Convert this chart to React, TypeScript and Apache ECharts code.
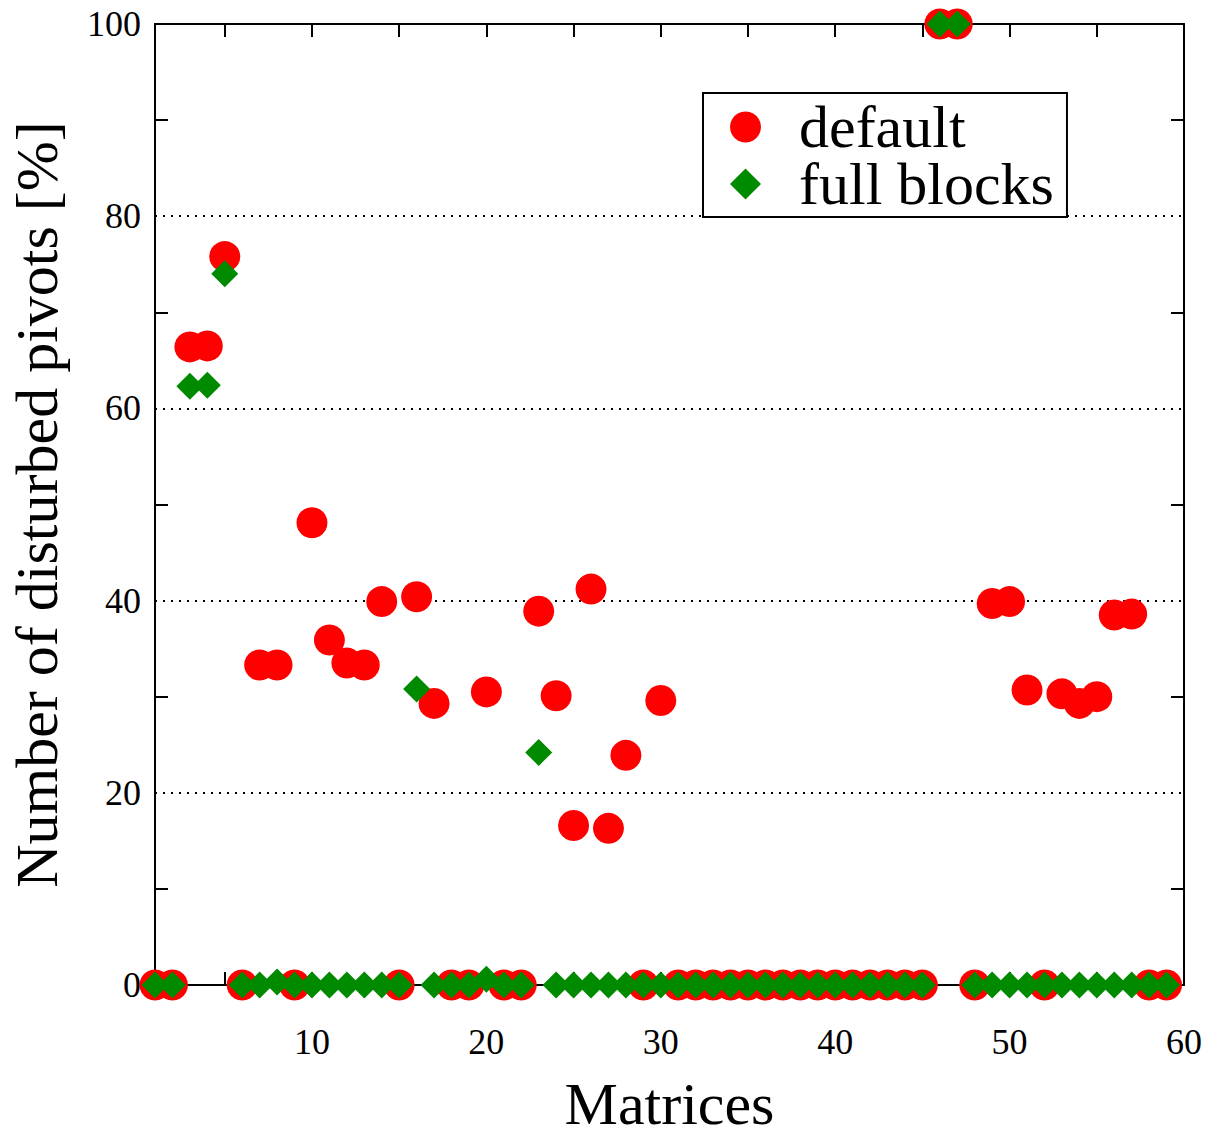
import React, { useEffect, useRef } from "react";
import * as echarts from "echarts";

const matrixIds = [
  1, 2, 3, 4, 5, 6, 7, 8, 9, 10, 11, 12, 13, 14, 15, 16, 17, 18, 19, 20,
  21, 22, 23, 24, 25, 26, 27, 28, 29, 30, 31, 32, 33, 34, 35, 36, 37, 38, 39, 40,
  41, 42, 43, 44, 45, 46, 47, 48, 49, 50, 51, 52, 53, 54, 55, 56, 57, 58, 59,
];

const defaultValues = [
  0, 0, 66.4, 66.5, 75.8, 0, 33.3, 33.3, 0, 48.1,
  35.9, 33.5, 33.3, 39.9, 0, 40.4, 29.3, 0, 0, 30.5,
  0, 0, 38.9, 30.1, 16.6, 41.2, 16.3, 23.9, 0, 29.6,
  0, 0, 0, 0, 0, 0, 0, 0, 0, 0,
  0, 0, 0, 0, 0, 100, 100, 0, 39.7, 39.9,
  30.7, 0, 30.3, 29.3, 30.0, 38.5, 38.6, 0, 0,
];

const fullBlocksValues = [
  0, 0, 62.3, 62.4, 74.0, 0, 0, 0.3, 0, 0,
  0, 0, 0, 0, 0, 30.8, 0, 0, 0, 0.6,
  0, 0, 24.2, 0, 0, 0, 0, 0, 0, 0,
  0, 0, 0, 0, 0, 0, 0, 0, 0, 0,
  0, 0, 0, 0, 0, 100, 100, 0, 0, 0,
  0, 0, 0, 0, 0, 0, 0, 0, 0,
];

const xTickLabels = [10, 20, 30, 40, 50, 60];
const xTickMarks = [5, 10, 15, 20, 25, 30, 35, 40, 45, 50, 55];

const FONT = "Liberation Serif";

export default function App() {
  const ref = useRef<HTMLDivElement>(null);

  useEffect(() => {
    if (!ref.current) return;
    const chart = echarts.init(ref.current, undefined, { renderer: "svg" });
    const axisLine = { show: true, onZero: false, lineStyle: { color: "#000", width: 2 } };
    const option: any = {
      animation: false,
      backgroundColor: "#fff",
      grid: {
        left: 155,
        right: 21,
        top: 24,
        bottom: 152,
        containLabel: false,
        outerBoundsMode: "none",
      },
      legend: {
        orient: "vertical",
        left: 703,
        top: 93,
        padding: [4, 13, 3, 27],
        itemGap: -3,
        itemWidth: 31,
        itemHeight: 31,
        backgroundColor: "#fff",
        borderColor: "#000",
        borderWidth: 2,
        z: 10,
        textStyle: {
          fontFamily: FONT,
          fontSize: 60,
          color: "#000",
          padding: [0, 0, 0, 33],
        },
        data: [
          { name: "default", icon: "circle" },
          { name: "full blocks", icon: "diamond" },
        ],
      },
      xAxis: [
        {
          type: "value",
          position: "bottom",
          min: 1,
          max: 60,
          name: "Matrices",
          nameLocation: "middle",
          nameGap: 97,
          nameTextStyle: { fontFamily: FONT, fontSize: 60, lineHeight: 44, color: "#000" },
          axisLine,
          axisTick: {
            show: true,
            inside: true,
            length: 13,
            customValues: xTickMarks,
            lineStyle: { color: "#000", width: 2 },
          },
          axisLabel: {
            show: true,
            customValues: xTickLabels,
            margin: 39,
            fontFamily: FONT,
            fontSize: 36,
            color: "#000",
          },
          splitLine: { show: false },
        },
        {
          type: "value",
          position: "top",
          min: 1,
          max: 60,
          axisLine,
          axisTick: {
            show: true,
            inside: true,
            length: 13,
            customValues: xTickMarks,
            lineStyle: { color: "#000", width: 2 },
          },
          axisLabel: { show: false },
          splitLine: { show: false },
        },
      ],
      yAxis: [
        {
          type: "value",
          position: "left",
          min: 0,
          max: 100,
          interval: 20,
          name: "Number of disturbed pivots [%]",
          nameLocation: "middle",
          nameGap: 88,
          nameTextStyle: { fontFamily: FONT, fontSize: 60, color: "#000" },
          axisLine,
          axisTick: { show: false, inside: true },
          minorTick: {
            show: true,
            splitNumber: 2,
            length: 13,
            lineStyle: { color: "#000", width: 2 },
          },
          axisLabel: {
            show: true,
            inside: false,
            margin: 14,
            fontFamily: FONT,
            fontSize: 36,
            color: "#000",
          },
          splitLine: {
            show: true,
            lineStyle: { color: "#000", width: 2, type: [2, 6] },
          },
        },
        {
          type: "value",
          position: "right",
          min: 0,
          max: 100,
          interval: 20,
          axisLine,
          axisTick: { show: false, inside: true },
          minorTick: {
            show: true,
            splitNumber: 2,
            length: 13,
            lineStyle: { color: "#000", width: 2 },
          },
          axisLabel: { show: false },
          splitLine: { show: false },
        },
      ],
      series: [
        {
          name: "default",
          type: "scatter",
          xAxisIndex: 0,
          yAxisIndex: 0,
          symbol: "circle",
          symbolSize: 31,
          clip: false,
          itemStyle: { color: "#ff0000", opacity: 1 },
          data: matrixIds.map((m, i) => [m, defaultValues[i]]),
          z: 3,
        },
        {
          name: "full blocks",
          type: "scatter",
          xAxisIndex: 0,
          yAxisIndex: 0,
          symbol: "diamond",
          symbolSize: 27,
          clip: false,
          itemStyle: { color: "#008a00", opacity: 1 },
          data: matrixIds.map((m, i) => [m, fullBlocksValues[i]]),
          z: 4,
        },
      ],
    };
    chart.setOption(option);
    return () => chart.dispose();
  }, []);

  return (
    <div
      ref={ref}
      style={{ position: "fixed", left: 0, top: 0, width: 1205, height: 1137, background: "#fff" }}
    />
  );
}
